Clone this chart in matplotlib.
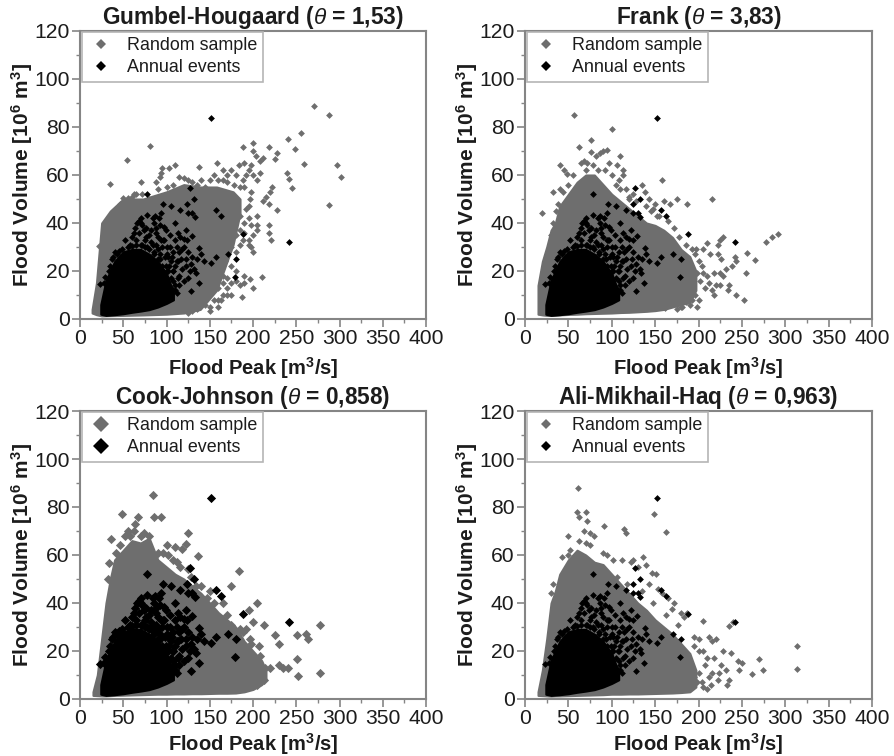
import matplotlib
matplotlib.use('Agg')
import matplotlib.pyplot as plt
from matplotlib.lines import Line2D

plt.rcParams['font.family'] = ['Liberation Sans', 'DejaVu Sans']
plt.rcParams['mathtext.fontset'] = 'custom'
plt.rcParams['mathtext.rm'] = 'Liberation Sans'
plt.rcParams['mathtext.bf'] = 'Liberation Sans:bold'
plt.rcParams['mathtext.it'] = 'Liberation Sans:italic'

GRAY = '#6e6e6e'
FRAME = '#858585'
TEXT = '#1c1c1c'

# the dense cores cannot be read point by point, so they are kept as
# upper/lower limits per peak value, the fringe points are read one by one

# --- annual events (same in all four panels) ---
annual_core_x = [24, 30, 40, 50, 60, 70, 80, 90, 100, 108]
annual_core_low = [2, 1.5, 1.8, 2.2, 2.8, 3.3, 3.9, 5, 6.5, 8]
annual_core_high = [6, 16, 24, 28, 29, 29, 27, 24, 19, 11]
annual_x = [152, 242, 188, 163, 157, 78, 127, 132, 124, 96, 105, 116, 125, 130, 133, 110, 97, 91, 87, 84,
            78, 66, 70, 62, 68, 74, 80, 75, 52, 90, 97, 116, 120, 129, 112, 118, 125, 138, 140, 130,
            135, 143, 152, 157, 171, 180, 179, 128, 137, 134, 127, 122, 115, 110, 105, 102, 108, 100, 95, 88,
            82, 85, 92, 115, 120, 110, 105, 23, 29, 35, 38, 40, 45, 72, 65, 58, 93, 99, 107, 113,
            55, 60, 65, 70, 75, 80, 85, 90, 95, 100, 105, 110, 112, 48, 43, 37, 33, 28, 60, 64,
            72, 76, 82, 88, 92, 99, 104, 110, 113, 122, 86, 94, 88, 78, 98, 103, 108, 112, 117, 123,
            128, 132, 118, 113, 125, 108, 102, 96, 104, 114, 120, 124, 84, 76, 68, 90, 94, 100, 106, 70]
annual_y = [83.8, 32.2, 35.5, 43, 45.5, 52, 54.5, 50, 48, 48, 47, 45.5, 44, 44, 42.5, 40, 38.5, 42, 43, 42,
            43.5, 40, 40, 36, 36, 37, 35, 33, 33, 34, 33, 34, 33.5, 34.5, 30, 29, 28, 29.5, 27, 26,
            25, 24, 23.5, 26, 27, 25, 17.5, 11.5, 15, 19, 20, 22, 18, 22, 24, 26, 28, 30, 30, 31,
            32, 28, 27, 14, 16, 14, 13, 14.5, 17.5, 22, 26, 28, 28.5, 31, 33, 31, 25, 22, 20, 24,
            30, 30.5, 31, 31, 30, 29, 27, 25, 22, 20, 17, 12, 11, 29, 27, 25, 20, 15, 34, 38,
            39, 38, 37, 38, 39, 37, 35, 33, 36, 37, 40, 44, 36, 30, 26, 22, 20, 24, 25, 25,
            23, 21, 21, 17, 17, 16, 20, 33, 30, 28, 30, 33, 31, 34, 41, 29, 33, 27, 26, 42]

# --- Gumbel-Hougaard ---
gh_core_x = [14, 19, 25, 35, 50, 73, 100, 120, 139, 158, 177, 185]
gh_core_high = [4, 15, 40, 45, 50, 50, 53, 56, 55, 55, 53, 50]
gh_core_low = [2.5, 1.8, 1.3, 1.4, 1.5, 1.7, 2, 2.5, 4, 12, 31, 44]
gh_x = [270, 288, 81, 54, 35, 22, 256, 240, 248, 259, 297, 302, 288, 239, 242, 245, 228, 221, 218, 218,
        210, 200, 197, 190, 187, 200, 188, 218, 228, 226, 212, 208, 204, 200, 198, 190, 184, 158, 138, 110,
        103, 95, 94, 93, 88, 70, 222, 220, 215, 212, 218, 208, 205, 200, 195, 192, 188, 180, 175, 170,
        165, 155, 198, 205, 200, 195, 205, 198, 200, 195, 190, 185, 175, 180, 170, 165, 160, 165, 170, 160,
        150, 150, 145, 50, 55, 60, 65, 72, 80, 42, 40, 30, 28, 33, 120, 125, 130, 135, 145, 150, 115,
        170, 175, 180, 185, 190, 160, 165, 155, 150, 145, 140, 178, 172, 168, 180, 188, 185, 192, 196, 198,
        195, 190, 185, 178, 170, 165, 160, 150, 140, 205, 195, 155, 160, 135, 130, 125, 165, 175, 185, 190,
        180, 170, 175, 163, 100, 108, 90, 62, 46, 38]
gh_y = [88.6, 85, 72.2, 66.4, 56.2, 30.5, 77.7, 75, 71, 64.5, 64.3, 59, 47.5, 61, 58.5, 54.7, 45.5, 32.8, 36, 39,
        17.7, 13, 16.5, 15, 9, 73.5, 71.5, 71.5, 69, 66.5, 67, 66, 68, 70, 64, 65, 64, 65, 63.5, 64,
        63, 63, 61, 59, 57, 57, 55, 53, 51, 49, 48, 61, 58, 60, 62, 60, 58, 60, 62, 60,
        62, 60, 39, 39, 35, 33, 37, 30, 28, 31, 36, 31, 22, 20, 17, 15, 13, 10, 10, 8,
        5, 3.5, 6, 50.5, 50.5, 51, 52, 52, 50, 46, 45, 40, 37, 34, 58.7, 58, 57, 56, 55, 53, 59,
        28, 30, 35, 37, 40, 22, 25, 18, 14, 10, 7, 38, 33, 24, 28, 33, 43, 46, 50, 53,
        47, 55, 55, 56, 57, 58, 58, 58, 58, 43, 42, 8, 5, 4, 3.5, 2.5, 18, 15, 14, 18,
        16, 13, 10, 8, 55, 56, 54, 52, 48, 44]

# --- Frank ---
fr_core_x = [15, 20, 25, 30, 35, 40, 50, 60, 70, 80, 90, 100, 110, 120, 130, 140, 150, 160, 170, 180, 190, 197]
fr_core_high = [14, 24, 30, 37, 40, 47, 52, 57, 60, 60, 56, 52, 49, 46, 43, 40, 39, 37, 34, 29, 26, 20]
fr_core_low = [2, 1.7, 1.5, 1.5, 1.6, 1.7, 1.9, 2, 2.2, 2.3, 2.4, 2.5, 2.7, 2.8, 3, 3.2, 3.5, 4, 5, 6, 7, 12]
fr_x = [57, 100, 76, 62, 95, 90, 87, 76, 109, 82, 68, 72, 40, 45, 48, 97, 106, 113, 113, 100,
        108, 117, 124, 135, 138, 143, 158, 148, 160, 167, 175, 187, 216, 150, 32, 40, 20, 32, 30, 292,
        285, 278, 228, 225, 222, 210, 197, 205, 213, 222, 226, 242, 243, 256, 265, 255, 239, 232, 225, 228,
        218, 210, 205, 212, 220, 225, 215, 218, 235, 234, 243, 253, 200, 198, 181, 190, 161, 170,
        65, 70, 78, 84, 92, 55, 50, 44, 38, 36, 120, 128, 140, 152, 165, 172, 178, 186, 192, 196,
        200, 204, 198, 202, 208, 196, 192, 186, 180, 175, 155, 145, 120, 110, 105]
fr_y = [84.8, 79, 74.5, 71.5, 70.5, 70, 69, 69.5, 68, 68, 66, 65, 64, 62, 60.5, 65, 64, 62, 60, 60,
        58, 54, 52, 56, 53, 50, 58, 46, 49, 48, 50, 48, 50, 48, 53, 54, 44, 40, 35, 35.5,
        34, 32, 34, 33, 31, 31.5, 29, 29, 27, 27, 25, 26, 24, 27.5, 24.5, 19, 22, 21, 19, 18,
        19, 18, 19, 15, 14, 14, 12, 10, 14, 12, 10, 8, 8, 5, 5, 6, 4.5, 7,
        65, 62, 64, 62, 62, 60, 56, 53, 48, 45, 51, 49, 47, 43, 41, 38, 34, 31, 29, 27,
        24, 22, 19, 16, 13, 10, 8, 7, 5, 4, 43, 45, 50, 54, 56]

# --- Cook-Johnson ---
cj_core_x = [15, 20, 25, 30, 35, 40, 50, 60, 70, 80, 90, 100, 110, 120, 130, 140, 150, 160, 170, 180, 190, 200, 210, 215]
cj_core_high = [3, 10, 25, 40, 50, 58, 62, 66, 65, 67, 58, 55, 52, 50, 47, 44, 40, 36, 33, 30, 24, 20, 16, 12]
cj_core_low = [1.5, 1.4, 1.3, 1.3, 1.4, 1.5, 1.6, 1.7, 1.8, 1.9, 2, 2, 2.1, 2.1, 2.2, 2.2, 2.3, 2.4, 2.4, 2.5, 3, 4, 6, 8]
cj_x = [84, 48, 67, 86, 94, 64, 56, 62, 74, 52, 36, 125, 123, 100, 110, 118, 96, 102, 136, 108,
        112, 125, 184, 116, 33, 32, 175, 140, 150, 147, 165, 205, 195, 200, 213, 225, 230, 251, 261, 264,
        278, 207, 196, 188, 192, 251, 240, 230, 220, 235, 252, 278, 213, 205, 165, 175,
        42, 46, 58, 70, 80, 90, 128, 134, 155, 170, 185, 198, 208, 214]
cj_y = [85, 77, 76, 76, 76, 73, 70, 70, 69, 68, 66.5, 69, 64.5, 64, 63.5, 62.5, 61, 60, 59.5, 58,
        57, 54, 53.5, 55, 56.5, 50, 47, 47, 45, 42, 40, 40, 37, 32, 31, 26.5, 23, 26.5, 27, 25,
        31, 22, 25, 28, 29, 16.5, 13, 14, 13, 13, 9.5, 11, 8, 6, 33, 31,
        61, 64, 68, 68, 68, 61, 51, 47, 40, 35, 29, 23, 18, 13]

# --- Ali-Mikhail-Haq ---
amh_core_x = [15, 20, 25, 30, 35, 40, 50, 60, 70, 80, 90, 100, 110, 120, 130, 140, 150, 160, 170, 180, 190, 197]
amh_core_high = [3, 12, 25, 40, 45, 52, 58, 62, 60, 57, 56, 52, 48, 44, 40, 37, 33, 30, 27, 23, 19, 12]
amh_core_low = [1.5, 1.4, 1.3, 1.2, 1.3, 1.3, 1.4, 1.5, 1.6, 1.7, 1.8, 2, 2, 2.1, 2.1, 2.2, 2.3, 2.4, 2.5, 2.7, 3, 5]
amh_x = [61, 60, 70, 62, 72, 91, 114, 116, 149, 163, 68, 75, 80, 49, 62, 70, 43, 50, 52, 75,
         90, 95, 102, 112, 122, 125, 136, 140, 146, 130, 151, 143, 153, 158, 165, 172, 170, 180, 187, 183,
         205, 235, 240, 195, 200, 212, 220, 215, 228, 238, 245, 250, 247, 232, 235, 233, 222, 212, 210, 205,
         262, 270, 274, 313, 313, 30, 32,
         205, 210, 200, 195, 218, 226, 224, 216, 208, 200, 195, 198, 204, 214, 176, 162, 148, 135, 118, 106]
amh_y = [88, 78, 78, 76, 74, 72, 71, 69, 77, 69.5, 70, 69, 68, 68, 66, 65, 59, 60, 62, 64,
         61, 60, 58, 58, 57, 58, 59, 56, 52.5, 55, 52, 48, 46, 44, 42, 40, 37.5, 36, 36, 34,
         32.5, 30.5, 32, 26, 25, 26, 25, 24, 20, 19, 16, 15, 12, 12, 8, 6, 8, 9, 4, 5,
         10.5, 16.5, 12, 22, 12.5, 44, 48,
         20, 17, 20, 22, 17, 14, 11, 11, 14, 11, 9, 7, 7, 6, 31, 35, 40, 45, 48, 51]

titles = [r'Gumbel-Hougaard ($\mathit{\theta}$ = 1,53)', r'Frank ($\mathit{\theta}$ = 3,83)',
          r'Cook-Johnson ($\mathit{\theta}$ = 0,858)', r'Ali-Mikhail-Haq ($\mathit{\theta}$ = 0,963)']
x_ticks = [0, 50, 100, 150, 200, 250, 300, 350, 400]
y_ticks = [0, 20, 40, 60, 80, 100, 120]

W, H = 894, 756
fig = plt.figure(figsize=(W / 100, H / 100), dpi=100)


def panel(box, title, core, px, py, marker, legend_marker, label_drop, title_pad):
    left, top, right, bottom = box
    ax = fig.add_axes([left / W, 1 - bottom / H, (right - left) / W, (bottom - top) / H])

    # random sample first, annual events on top
    ax.fill_between(core[0], core[1], core[2], color=GRAY, lw=1.5, zorder=2)
    ax.scatter(px, py, s=marker, marker='D', color=GRAY, linewidths=0, zorder=2)
    ax.fill_between(annual_core_x, annual_core_low, annual_core_high, color='black', lw=1.5, zorder=3)
    ax.scatter(annual_x, annual_y, s=marker, marker='D', color='black', linewidths=0, zorder=3)

    ax.set_xlim(0, 400)
    ax.set_ylim(0, 120)
    ax.set_xticks(x_ticks)
    ax.set_yticks(y_ticks)
    ax.set_xticks([25 + 50 * i for i in range(8)], minor=True)
    ax.set_yticks([10 + 20 * i for i in range(6)], minor=True)
    ax.tick_params(which='major', length=6, width=1.2, color=FRAME, labelsize=15.2, labelcolor=TEXT, pad=1.5)
    ax.tick_params(which='minor', length=3, width=1.0, color=FRAME)
    for s in ax.spines.values():
        s.set_color(FRAME)
        s.set_linewidth(1.5)

    ax.set_title(title, fontsize=16.3, fontweight='bold', color=TEXT, pad=title_pad)
    ax.set_xlabel(r'Flood Peak [m$\mathbf{^{3}}$/s]', fontsize=14.5, fontweight='bold', color=TEXT)
    ax.set_ylabel(r'Flood Volume [10$\mathbf{^{6}}$ m$\mathbf{^{3}}$]', fontsize=15, fontweight='bold', color=TEXT)
    ax.xaxis.set_label_coords(0.5, -label_drop / (bottom - top))
    ax.yaxis.set_label_coords(-45 / (right - left), 0.5)

    handles = [Line2D([], [], ls='', marker='D', color=GRAY, mew=0, ms=legend_marker, label='Random sample'),
               Line2D([], [], ls='', marker='D', color='black', mew=0, ms=legend_marker, label='Annual events')]
    leg = ax.legend(handles=handles, loc='upper left', bbox_to_anchor=(0.005, 0.998), borderaxespad=0,
                    fontsize=12.9, fancybox=False, framealpha=1, edgecolor='#b5b5b5', labelcolor=TEXT,
                    handletextpad=0.62, borderpad=0.3, labelspacing=0.3, handlelength=1.6)
    leg.get_frame().set_linewidth(1.2)


panel((80, 31, 426, 319), titles[0], (gh_core_x, gh_core_low, gh_core_high), gh_x, gh_y, 12, 5.5, 36, 2)
panel((525, 31, 872, 319), titles[1], (fr_core_x, fr_core_low, fr_core_high), fr_x, fr_y, 12, 5.5, 36, 2)
panel((80, 411, 426, 699), titles[2], (cj_core_x, cj_core_low, cj_core_high), cj_x, cj_y, 22, 7.8, 32, 3)
panel((525, 411, 872, 699), titles[3], (amh_core_x, amh_core_low, amh_core_high), amh_x, amh_y, 12, 5.5, 32, 3)

fig.savefig('out.png', dpi=100)
